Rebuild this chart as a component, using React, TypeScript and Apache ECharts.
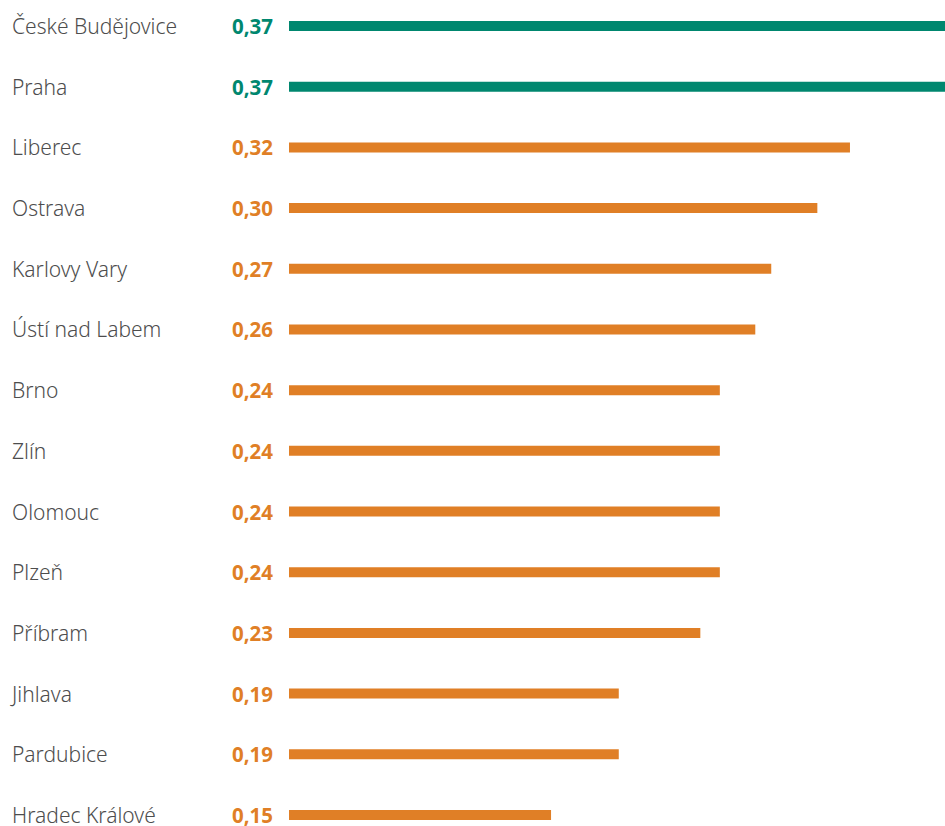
import React, { useEffect, useRef } from "react";
import * as echarts from "echarts";

const cities = [
  "České Budějovice",
  "Praha",
  "Liberec",
  "Ostrava",
  "Karlovy Vary",
  "Ústí nad Labem",
  "Brno",
  "Zlín",
  "Olomouc",
  "Plzeň",
  "Příbram",
  "Jihlava",
  "Pardubice",
  "Hradec Králové",
];

const values = [0.37, 0.37, 0.3164, 0.298, 0.272, 0.263, 0.243, 0.243, 0.243, 0.243, 0.232, 0.186, 0.186, 0.1478];

const highlighted = [true, true, false, false, false, false, false, false, false, false, false, false, false, false];

const TEAL = "#00876f";
const ORANGE = "#e07f26";

export default function App() {
  const ref = useRef<HTMLDivElement>(null);
  useEffect(() => {
    const chart = echarts.init(ref.current!, null, { renderer: "svg" });
    const fontFamily = "'Noto Sans', 'Open Sans', sans-serif";
    chart.setOption({
      animation: false,
      grid: { left: 289, right: 0, top: 26, bottom: 11, containLabel: false },
      xAxis: {
        type: "value",
        min: 0,
        max: 0.37,
        show: false,
      },
      yAxis: {
        type: "category",
        data: cities,
        inverse: true,
        boundaryGap: false,
        axisLine: { show: false },
        axisTick: { show: false },
        splitLine: { show: false },
        axisLabel: {
          align: "left",
          margin: 277,
          color: "#4d4d4d",
          fontSize: 21,
          fontWeight: 300,
          fontFamily,
        },
      },
      series: [
        {
          type: "bar",
          barWidth: 10,
          data: values.map((v, i) => {
            const c = highlighted[i] ? TEAL : ORANGE;
            return {
              value: v,
              itemStyle: { color: c },
              label: { color: c },
            };
          }),
          label: {
            show: true,
            position: "left",
            distance: 16,
            fontSize: 20.5,
            fontWeight: "bold",
            fontFamily,
            formatter: (p: any) => p.value.toFixed(2).replace(".", ","),
          },
        },
      ],
    });
    return () => chart.dispose();
  }, []);
  return (
    <div
      ref={ref}
      style={{ position: "fixed", left: 0, top: 0, width: 945, height: 826, background: "#fff" }}
    />
  );
}
